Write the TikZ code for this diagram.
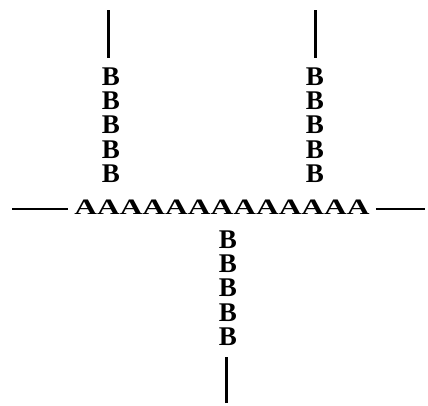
\documentclass[tikz,border=0pt]{standalone}
\usepackage{fontspec}
\setmainfont{Liberation Serif}
\begin{document}
\begin{tikzpicture}[x=1pt,y=1pt,
  bstack/.style={font=\fontsize{27}{24.2}\selectfont\bfseries, align=center, inner sep=0pt},
  arow/.style={font=\fontsize{22}{22}\selectfont\bfseries, inner sep=0pt},
  vline/.style={line width=3pt},
  hline/.style={line width=2pt}]
\useasboundingbox (0,0) rectangle (428,-405);
% horizontal A row
\node[arow] (A) at (222,-207) {\scalebox{1.43}[1]{AAAAAAAAAAAAA}};
\coordinate (hl) at (12,-209);
\coordinate (hr) at (425,-209);
\draw[hline] (hl) -- ([xshift=-6pt]A.west |- hl);
\draw[hline] ([xshift=6pt]A.east |- hr) -- (hr);
% B stacks
\node[bstack] (B1) at (111,-125) {B\\B\\B\\B\\B};
\node[bstack] (B2) at (315,-125) {B\\B\\B\\B\\B};
\node[bstack] (B3) at (228,-288) {B\\B\\B\\B\\B};
\coordinate (t1) at (108,-10);
\coordinate (t2) at (315,-10);
\coordinate (t3) at (226,-403);
\draw[vline] (t1) -- (t1 |- 0,-58);
\draw[vline] (t2) -- (t2 |- 0,-58);
\draw[vline] (t3) -- (t3 |- 0,-357);
\end{tikzpicture}
\end{document}
